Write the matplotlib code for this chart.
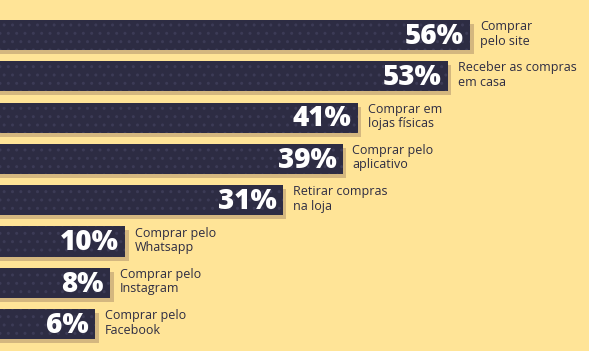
import matplotlib.pyplot as plt
import numpy as np

# dados do gráfico
categorias = ["Comprar\npelo site", "Receber as compras\nem casa", "Comprar em\nlojas físicas",
              "Comprar pelo\naplicativo", "Retirar compras\nna loja", "Comprar pelo\nWhatsapp",
              "Comprar pelo\nInstagram", "Comprar pelo\nFacebook"]
valores = [56, 53, 41, 39, 31, 10, 8, 6]
rotulos = ["56%", "53%", "41%", "39%", "31%", "10%", "8%", "6%"]

fundo = "#ffe497"
cor_barra = "#2d2c43"
cor_sombra = "#d4b77f"

fig = plt.figure(figsize=(5.89, 3.51), dpi=100)
fig.patch.set_facecolor(fundo)
ax = fig.add_axes([0, 0, 1, 1])
ax.set_facecolor(fundo)

px_x = 7.5          # pixels por ponto percentual
xmin = -50 / px_x
xmax = xmin + 589 / px_x
passo = 41.3        # pixels entre barras
ax.set_xlim(xmin, xmax)
ax.set_ylim((351 - 35) / passo, -35 / passo)

y = np.arange(len(valores))
larg = np.array(valores) - xmin

# sombra deslocada
ax.barh(y + 4 / passo, larg + 4 / px_x, left=xmin, height=0.73, color=cor_sombra, zorder=1)
ax.barh(y, larg, left=xmin, height=0.73, color=cor_barra, edgecolor="#3c3b56",
        linewidth=0, hatch="..", zorder=2)

for i, v in enumerate(valores):
    ax.text(v - 6 / px_x, i + 0.03, rotulos[i], ha="right", va="center", color="white",
            fontsize=20, fontweight="heavy", family="Open Sans", zorder=3)
    ax.text(v + 10 / px_x, i - 0.03, categorias[i], ha="left", va="center", color=cor_barra,
            fontsize=9, family="Open Sans", linespacing=1.15, zorder=3)

ax.axis("off")
fig.savefig("out.png", dpi=100, facecolor=fundo)
